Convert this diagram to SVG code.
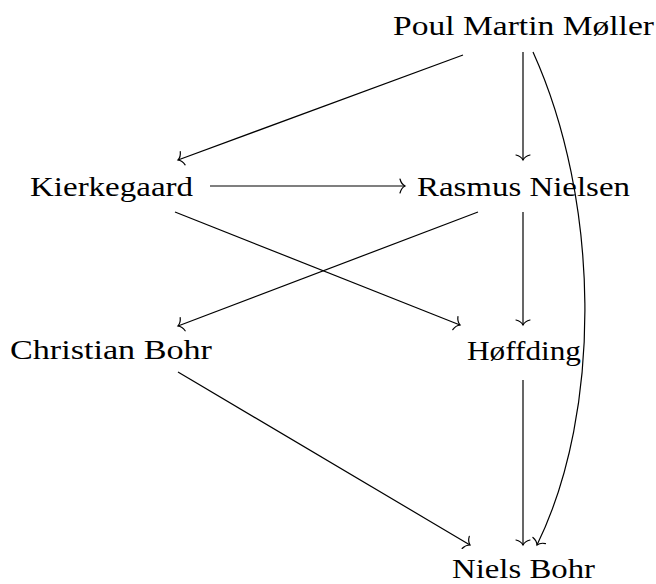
<svg xmlns="http://www.w3.org/2000/svg" width="656" height="584" viewBox="0 0 656 584">
<style>
text{font-family:"Liberation Serif","DejaVu Serif",serif;font-size:28px;fill:#000}
.e{fill:none;stroke:#000;stroke-width:1.2;marker-end:url(#arr)}
</style>
<defs>
<marker id="arr" markerUnits="userSpaceOnUse" viewBox="-8 -9 10 18" refX="0" refY="0" markerWidth="10" markerHeight="18" orient="auto" overflow="visible">
<path d="M-5,-7 C-4,-3 -1.5,-0.8 0,0 C-1.5,0.8 -4,3 -5,7" fill="none" stroke="#000" stroke-width="1.2" stroke-linecap="round"/>
</marker>
</defs>
<rect width="656" height="584" fill="#fff"/>
<g id="connectors">
<path class="e" d="M463,55 L178,160"/>
<path class="e" d="M523,52 L523,160"/>
<path class="e" d="M533,52 C600,200 603,410 537,545"/>
<path class="e" d="M210,186 L405,186"/>
<path class="e" d="M175,212 L460,325"/>
<path class="e" d="M478,212 L178,326"/>
<path class="e" d="M523,212 L523,325"/>
<path class="e" d="M178,372 L470,545"/>
<path class="e" d="M523,380 L523,545"/>
</g>
<g id="moller"><text x="393" y="35" textLength="261" lengthAdjust="spacingAndGlyphs">Poul Martin Møller</text></g>
<g id="kierkegaard"><text x="30" y="196" textLength="163" lengthAdjust="spacingAndGlyphs">Kierkegaard</text></g>
<g id="nielsen"><text x="417" y="196" textLength="213" lengthAdjust="spacingAndGlyphs">Rasmus Nielsen</text></g>
<g id="cbohr"><text x="10" y="359" textLength="202" lengthAdjust="spacingAndGlyphs">Christian Bohr</text></g>
<g id="hoffding"><text x="467" y="360" textLength="114" lengthAdjust="spacingAndGlyphs">Høffding</text></g>
<g id="nbohr"><text x="452" y="578" textLength="143" lengthAdjust="spacingAndGlyphs">Niels Bohr</text></g>
</svg>
